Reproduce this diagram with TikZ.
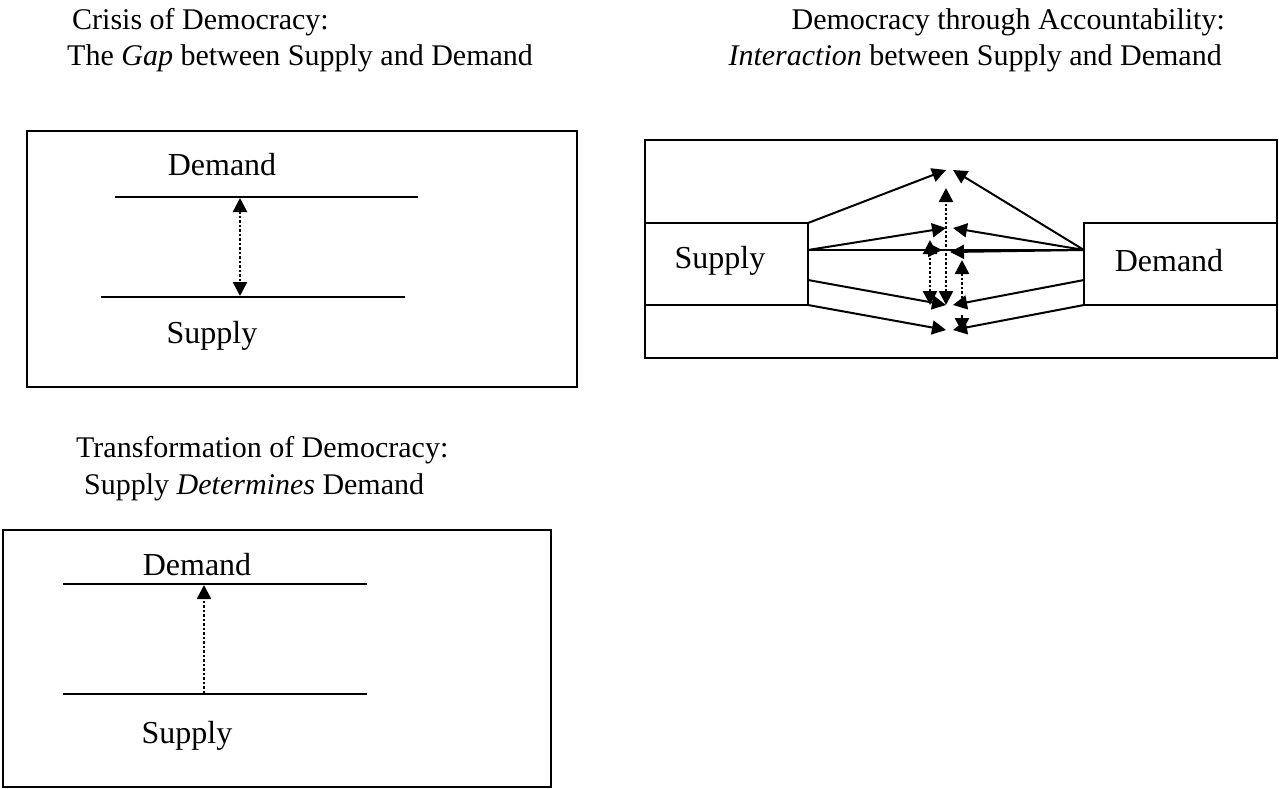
\documentclass[tikz,border=0pt]{standalone}
\usepackage{fontspec}
\setmainfont{Liberation Serif}
\usetikzlibrary{arrows.meta}
\begin{document}
\begin{tikzpicture}[x=1pt,y=-1pt,
  lbl/.style={font=\fontsize{32}{36}\selectfont, inner sep=0pt},
  ttl/.style={font=\fontsize{30}{36}\selectfont, inner sep=0pt, anchor=west},
  ln/.style={line width=2pt},
  ar/.style={line width=2pt,-{Triangle[length=14pt,width=14pt]}},
  dar/.style={line width=2.5pt,dotted,-{Triangle[length=14pt,width=14pt]}},
  ddar/.style={line width=2.5pt,dotted,{Triangle[length=14pt,width=14pt]}-{Triangle[length=14pt,width=14pt]}}]
\useasboundingbox (0,0) rectangle (1279,788);
% titles
\node[ttl] (t1) at (72,22) {Crisis of Democracy:};
\node[ttl] (t2) at (67,58) {The \textit{Gap} between Supply and Demand};
\node[ttl,anchor=east] (t3) at (1225,22) {Democracy through Accountability:};
\node[ttl,anchor=east] (t4) at (1222,58) {\textit{Interaction} between Supply and Demand};
\node[ttl] (t5) at (76,450) {Transformation of Democracy:};
\node[ttl] (t6) at (84,487) {Supply \textit{Determines} Demand};
% box 1
\draw[ln] (27,131) rectangle (577,387);
\node[lbl] (d1) at (222,165) {Demand};
\node[lbl] (s1) at (212,336) {Supply};
\coordinate (a1) at (115,197); \coordinate (b1) at (418,197);
\coordinate (a2) at (101,297); \coordinate (b2) at (405,297);
\draw[ln] (a1) -- (b1); \draw[ln] (a2) -- (b2);
\coordinate (g1) at (240,198); \coordinate (g2) at (240,296);
\draw[ddar] (g1) -- (g2);
% box 3
\draw[ln] (3,530) rectangle (551,787);
\node[lbl] (d3) at (197,565) {Demand};
\node[lbl] (s3) at (187,736) {Supply};
\coordinate (c1) at (63,584); \coordinate (e1) at (367,584);
\coordinate (c2) at (63,694); \coordinate (e2) at (367,694);
\draw[ln] (c1) -- (e1); \draw[ln] (c2) -- (e2);
\coordinate (h1) at (204,693); \coordinate (h2) at (204,585);
\draw[dar] (h1) -- (h2);
% box 2
\draw[ln] (645,140) rectangle (1277,358);
\draw[ln] (645,223) rectangle (808,305);
\draw[ln] (1084,223) rectangle (1277,305);
\node[lbl] (s2) at (720,261) {Supply};
\node[lbl] (d2) at (1169,261) {Demand};
\coordinate (sA) at (808,223); \coordinate (sB) at (808,250);
\coordinate (sC) at (808,280); \coordinate (sD) at (808,305);
\coordinate (dA) at (1084,250); \coordinate (dC) at (1084,280); \coordinate (dD) at (1084,305);
\coordinate (m1) at (946,170); \coordinate (n1) at (953,170);
\coordinate (m2) at (946,228); \coordinate (n2) at (953,228);
\coordinate (m3) at (946,305); \coordinate (n3) at (953,305);
\coordinate (m4) at (946,330); \coordinate (n4) at (953,330);
\coordinate (m5) at (942,250); \coordinate (n5) at (950,252);
\draw[ar] (sA) -- (m1); \draw[ar] (dA) -- (n1);
\draw[ar] (sB) -- (m2); \draw[ar] (dA) -- (n2);
\draw[ln] (sB) -- (dA);
\draw[ar] (sB) -- (m5); \draw[ar] (dA) -- (n5);
\draw[ar] (sC) -- (m3); \draw[ar] (dC) -- (n3);
\draw[ar] (sD) -- (m4); \draw[ar] (dD) -- (n4);
\coordinate (v1a) at (930,240); \coordinate (v1b) at (930,305);
\coordinate (v2a) at (946,188); \coordinate (v2b) at (946,305);
\coordinate (v3a) at (962,260); \coordinate (v3b) at (962,298);
\coordinate (v3c) at (962,315); \coordinate (v3d) at (962,332);
\draw[ddar] (v1b) -- (v1a);
\draw[ddar] (v2b) -- (v2a);
\draw[dar] (v3b) -- (v3a);
\draw[dar] (v3c) -- (v3d);
\end{tikzpicture}
\end{document}
